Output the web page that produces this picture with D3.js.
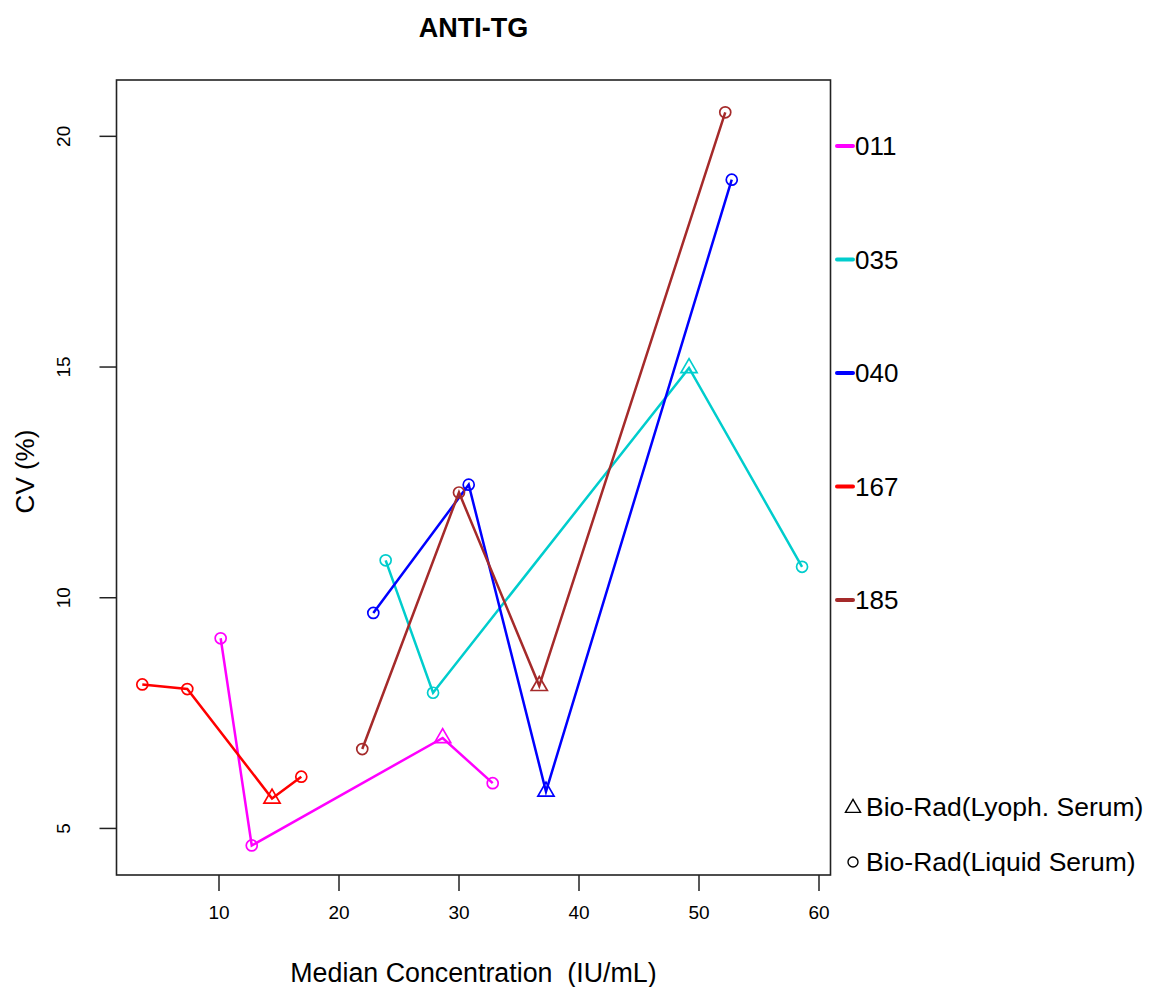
<!DOCTYPE html>
<html><head><meta charset="utf-8">
<script src="https://cdn.jsdelivr.net/npm/d3@7/dist/d3.min.js"></script>
<style>
body{margin:0;background:#fff;}
text{font-family:"Liberation Sans",Arial,sans-serif;fill:#000;}
</style>
</head><body>
<svg id="chart" width="1152" height="987"></svg>
<script>
// ---- data ----
const seriesNames = ["011", "035", "040", "167", "185"];
const seriesColors = ["#FF00FF", "#00CDCD", "#0000FF", "#FF0000", "#A52A2A"];
const pointType = ["Liquid", "Liquid", "Lyoph", "Liquid"];
const conc011 = [10.18, 12.77, 28.68, 32.85];
const cv011   = [9.11, 4.62, 6.95, 5.97];
const conc035 = [23.93, 27.88, 49.21, 58.63];
const cv035   = [10.80, 7.93, 14.97, 10.66];
const conc040 = [22.90, 30.85, 37.29, 52.77];
const cv040   = [9.66, 12.44, 5.79, 19.05];
const conc167 = [3.65, 7.40, 14.46, 16.90];
const cv167   = [8.11, 8.01, 5.64, 6.11];
const conc185 = [21.98, 30.04, 36.73, 52.23];
const cv185   = [6.71, 12.27, 8.08, 20.51];
const xTicks = [10, 20, 30, 40, 50, 60];
const yTicks = [5, 10, 15, 20];
const typeLabels = ["Bio-Rad(Lyoph. Serum)", "Bio-Rad(Liquid Serum)"];

const concs = [conc011, conc035, conc040, conc167, conc185];
const cvs = [cv011, cv035, cv040, cv167, cv185];
const series = seriesNames.map((name, i) => ({
  name, color: seriesColors[i],
  points: concs[i].map((c, j) => ({x: c, y: cvs[i][j], type: pointType[j]}))
}));

// ---- layout ----
const L = 116.5, R = 830.5, T = 80, B = 875;
const svg = d3.select("#chart");
const x = d3.scaleLinear().domain([1.5, 61.0]).range([L, R]);
const y = d3.scaleLinear().domain([3.98, 21.21]).range([B, T]);

// triangle (R pch 2 style)
function triPath(r) {
  const xc = r * 1.3468, yc = r * 0.7776, rr = r * 1.5551;
  return `M0,${-rr}L${xc},${yc}L${-xc},${yc}Z`;
}
const triR = 6.0, circR = 5.5;

// box
svg.append("rect").attr("x", L).attr("y", T).attr("width", R - L).attr("height", B - T)
  .attr("fill", "none").attr("stroke", "#222").attr("stroke-width", 1.6);

// x axis
const xAxis = svg.append("g").attr("transform", `translate(0,${B})`)
  .call(d3.axisBottom(x).tickValues(xTicks).tickSize(16).tickFormat(d3.format("d")));
xAxis.select(".domain").remove();
xAxis.selectAll("line").attr("stroke", "#222").attr("stroke-width", 1.5);
xAxis.selectAll("text").attr("y", 37).attr("dy", "0.35em")
  .style("font-size", "19px").attr("fill", "#000");

// y axis
const yAxis = svg.append("g").attr("transform", `translate(${L},0)`)
  .call(d3.axisLeft(y).tickValues(yTicks).tickSize(17).tickFormat(d3.format("d")));
yAxis.select(".domain").remove();
yAxis.selectAll("line").attr("stroke", "#222").attr("stroke-width", 1.5);
yAxis.selectAll("text").attr("x", null).attr("dy", null)
  .attr("transform", `translate(${63 - L},0) rotate(-90)`)
  .attr("text-anchor", "middle").attr("dy", "0.35em")
  .style("font-size", "19px").attr("fill", "#000");

// titles
svg.append("text").attr("x", (L + R) / 2).attr("y", 28).attr("dy", "0.35em")
  .attr("text-anchor", "middle").style("font-size", "27px").style("font-weight", "bold")
  .text("ANTI-TG");
svg.append("text").attr("x", (L + R) / 2).attr("y", 973).attr("dy", "0.35em")
  .attr("text-anchor", "middle").style("font-size", "26.8px").style("white-space", "pre")
  .attr("xml:space", "preserve")
  .text("Median Concentration  (IU/mL)");
svg.append("text").attr("transform", `translate(25,${(T + B) / 2 - 6}) rotate(-90)`).attr("dy", "0.35em")
  .attr("text-anchor", "middle").style("font-size", "26px")
  .text("CV (%)");

// series
const line = d3.line().x(d => x(d.x)).y(d => y(d.y));
const gS = svg.append("g");
series.forEach(s => {
  gS.append("path").attr("d", line(s.points)).attr("fill", "none")
    .attr("stroke", s.color).attr("stroke-width", 2.5);
  s.points.forEach(p => {
    if (p.type === "Lyoph") {
      gS.append("path").attr("d", triPath(triR))
        .attr("transform", `translate(${x(p.x)},${y(p.y)})`)
        .attr("fill", "none").attr("stroke", s.color).attr("stroke-width", 1.7);
    } else {
      gS.append("circle").attr("cx", x(p.x)).attr("cy", y(p.y)).attr("r", circR)
        .attr("fill", "none").attr("stroke", s.color).attr("stroke-width", 1.7);
    }
  });
});

// legend: series
const gL = svg.append("g");
series.forEach((s, i) => {
  const ly = 146 + i * 113.5;
  gL.append("line").attr("x1", 837).attr("x2", 853).attr("y1", ly).attr("y2", ly)
    .attr("stroke", s.color).attr("stroke-width", 4).attr("stroke-linecap", "round");
  gL.append("text").attr("x", 855).attr("y", ly).attr("dy", "0.35em")
    .style("font-size", "26px").text(s.name);
});

// legend: types
const typeY = [807, 862];
gL.append("path").attr("d", triPath(5.6)).attr("transform", `translate(853,${typeY[0] + 1})`)
  .attr("fill", "none").attr("stroke", "#000").attr("stroke-width", 1.4);
gL.append("circle").attr("cx", 853).attr("cy", typeY[1]).attr("r", 5)
  .attr("fill", "none").attr("stroke", "#000").attr("stroke-width", 1.4);
typeLabels.forEach((t, i) => {
  gL.append("text").attr("x", 866).attr("y", typeY[i]).attr("dy", "0.35em")
    .style("font-size", "26.5px").text(t);
});
</script>
</body></html>
